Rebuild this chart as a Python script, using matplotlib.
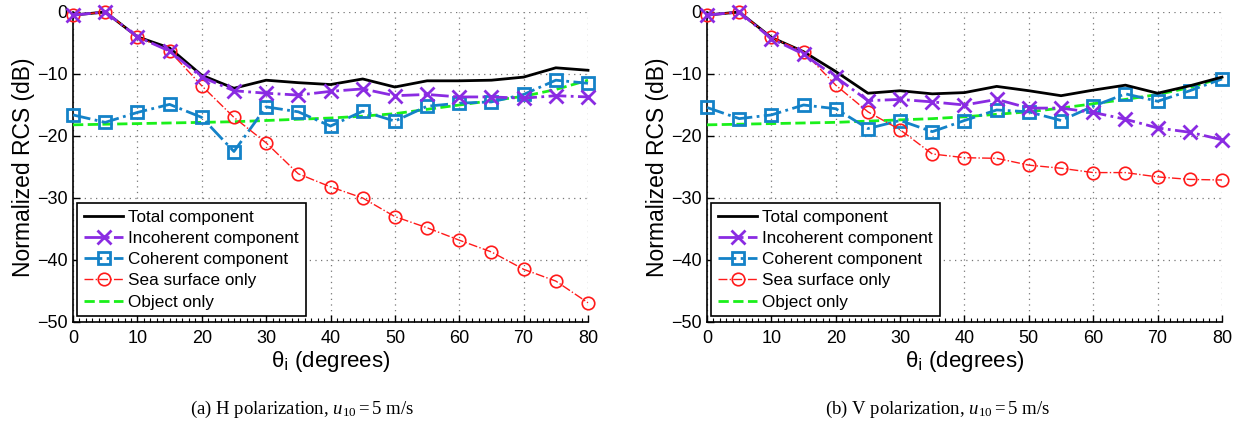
import numpy as np
import matplotlib
matplotlib.use("Agg")
import matplotlib.pyplot as plt
from matplotlib.ticker import MultipleLocator

plt.rcParams['font.family'] = ['Liberation Sans', 'DejaVu Sans']
plt.rcParams['mathtext.fontset'] = 'custom'
plt.rcParams['mathtext.rm'] = 'Liberation Serif'
plt.rcParams['mathtext.it'] = 'Liberation Serif:italic'

theta = [0, 5, 10, 15, 20, 25, 30, 35, 40, 45, 50, 55, 60, 65, 70, 75, 80]

# (a) H polarization
h_total = [-0.5, 0.0, -4.0, -5.8, -10.2, -12.3, -11.0, -11.4, -11.7, -10.8, -12.1, -11.1, -11.1, -11.0, -10.5, -9.0, -9.4]
h_incoh = [-0.5, 0.0, -4.0, -6.3, -10.5, -12.7, -13.1, -13.4, -12.8, -12.4, -13.5, -13.3, -13.7, -13.7, -13.9, -13.5, -13.7]
h_coh = [-16.6, -17.8, -16.2, -14.9, -17.0, -22.5, -15.3, -16.1, -18.4, -16.0, -17.6, -15.2, -14.7, -14.5, -13.3, -11.0, -11.5]
h_sea = [-0.5, 0.0, -4.0, -6.3, -11.9, -17.0, -21.1, -26.1, -28.2, -30.0, -33.0, -34.8, -36.8, -38.7, -41.5, -43.4, -46.9]
h_obj = [-18.2, -18.1, -18.0, -17.9, -17.8, -17.7, -17.5, -17.3, -17.1, -16.8, -16.4, -15.7, -15.0, -14.3, -13.6, -12.5, -11.0]

# (b) V polarization
v_total = [-0.5, 0.0, -4.1, -6.4, -9.6, -13.1, -12.7, -13.2, -13.0, -12.0, -12.7, -13.5, -12.6, -11.8, -13.1, -11.9, -10.5]
v_incoh = [-0.5, 0.0, -4.3, -6.8, -10.5, -14.3, -14.1, -14.5, -15.0, -14.1, -15.5, -15.5, -16.2, -17.3, -18.7, -19.4, -20.6]
v_coh = [-15.4, -17.2, -16.6, -15.0, -15.6, -18.8, -17.5, -19.3, -17.5, -15.8, -16.1, -17.5, -15.2, -13.2, -14.4, -12.7, -10.8]
v_sea = [-0.5, 0.0, -4.1, -6.4, -11.8, -16.1, -19.0, -22.9, -23.5, -23.6, -24.7, -25.2, -25.9, -25.9, -26.6, -27.0, -27.1]
v_obj = [-18.2, -18.1, -18.0, -17.9, -17.8, -17.6, -17.4, -17.2, -16.9, -16.5, -16.1, -15.5, -14.8, -14.1, -13.3, -12.2, -10.6]

labels = ["Total component", "Incoherent component", "Coherent component",
          "Sea surface only", "Object only"]
captions = [r"(a) H polarization, $u_{10} = 5$ m/s", r"(b) V polarization, $u_{10} = 5$ m/s"]

xticks = [0, 10, 20, 30, 40, 50, 60, 70, 80]
yticks = [0, -10, -20, -30, -40, -50]

PURPLE = '#8a2be2'
BLUE = '#1482c8'
RED = '#ff1a1a'
GREEN = '#1af01a'

fig = plt.figure(figsize=(12.47, 4.28), dpi=100)
axes_pos = [[73/1247, 1 - 322/428, 515/1247, 310/428],
            [707/1247, 1 - 322/428, 515/1247, 310/428]]
caption_x = [302/1247, 938/1247]
data = [(h_total, h_incoh, h_coh, h_sea, h_obj), (v_total, v_incoh, v_coh, v_sea, v_obj)]

for k, (pos, d) in enumerate(zip(axes_pos, data)):
    ax = fig.add_axes(pos)
    tot, inc, coh, sea, obj = d
    ax.plot(theta, tot, '-', color='black', lw=2, label=labels[0], clip_on=False, zorder=5)
    ax.plot(theta, inc, '-.', color=PURPLE, lw=2, marker='x', ms=10, mew=2,
            label=labels[1], clip_on=False, zorder=6)
    ax.plot(theta, coh, '-.', color=BLUE, lw=2, marker='s', ms=9, mew=2, mfc='none',
            label=labels[2], clip_on=False, zorder=4)
    ax.plot(theta, sea, '-.', color=RED, lw=1, marker='o', ms=9, mew=1.2, mfc='none',
            label=labels[3], clip_on=False, zorder=5)
    ax.plot(theta, obj, '--', color=GREEN, lw=2, label=labels[4], clip_on=False, zorder=3)

    ax.set_xlim(0, 80)
    ax.set_ylim(-50, 0)
    ax.set_xticks(xticks)
    ax.set_yticks(yticks)
    ax.xaxis.set_minor_locator(MultipleLocator(1))
    ax.tick_params(axis='both', which='major', direction='in', length=5, labelsize=13,
                   width=1)
    ax.tick_params(axis='x', which='minor', direction='in', length=3, width=0.8)
    ax.tick_params(axis='x', pad=6)
    ax.tick_params(axis='y', pad=4)
    for s in ['top', 'right']:
        ax.spines[s].set_visible(False)
    for s in ['left', 'bottom']:
        ax.spines[s].set_linewidth(1.2)
    ax.grid(True, which='major', linestyle=(0, (1, 3.5)), color='#777777', lw=0.9)
    ax.set_axisbelow(True)
    ax.set_xlabel("θ$_{\\mathsf{i}}$ (degrees)", fontsize=16, labelpad=1)
    ax.set_ylabel("Normalized RCS (dB)", fontsize=16.5, labelpad=1)
    leg = ax.legend(loc='lower left', bbox_to_anchor=(0.008, 0.018), fontsize=12.3,
                    frameon=True, fancybox=False, edgecolor='black', framealpha=1,
                    handlelength=2.3, handletextpad=0.3, borderpad=0.4,
                    labelspacing=0.36, borderaxespad=0)
    leg.get_frame().set_linewidth(1.2)
    fig.text(caption_x[k], 1 - 409/428, captions[k], ha='center', va='center',
             fontsize=13.5, family='Liberation Serif')

fig.savefig("out.png", dpi=100)
